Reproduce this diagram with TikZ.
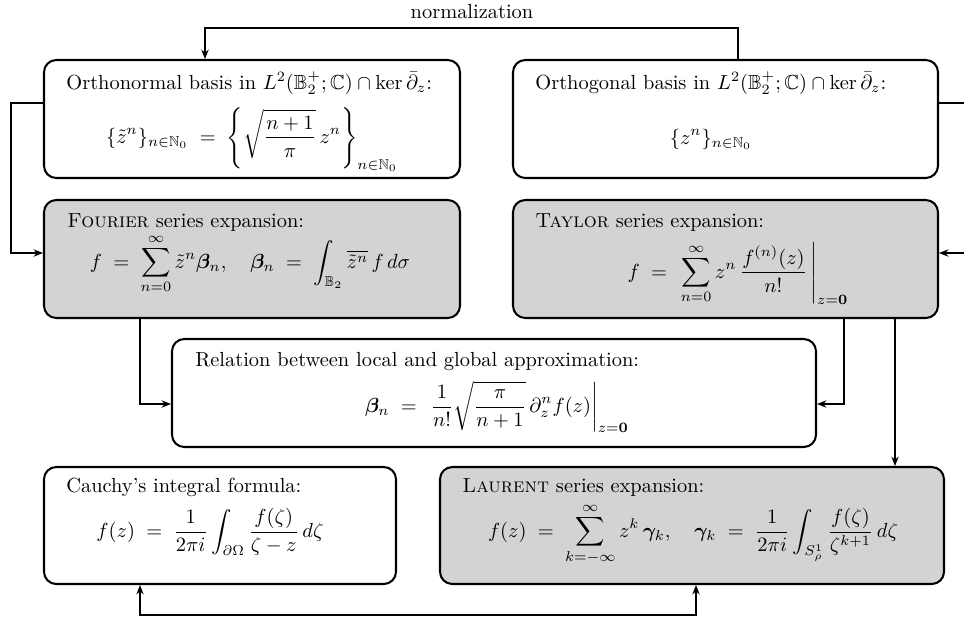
\documentclass[tikz,border=0pt]{standalone}
\usepackage{amsmath,amssymb,bm}
\usetikzlibrary{arrows.meta,fit}
\definecolor{boxgray}{RGB}{211,211,211}
\tikzset{
  box/.style={draw, line width=1pt, rounded corners=6pt, inner sep=0pt},
  gbox/.style={box, fill=boxgray},
  conn/.style={line width=0.6pt},
  arr/.style={conn, -{Stealth[length=4.6pt,width=3.6pt,inset=1.5pt]}},
  barr/.style={conn, {Stealth[length=4.6pt,width=3.6pt,inset=1.5pt]}-{Stealth[length=4.6pt,width=3.6pt,inset=1.5pt]}},
  ttl/.style={anchor=base west, inner sep=0pt},
  frm/.style={anchor=base, inner sep=0pt},
}
\begin{document}
\begin{tikzpicture}[x=0.49pt,y=-0.49pt]
\useasboundingbox (0,0) rectangle (964,621);
\clip (0,0) rectangle (964,621);

% boxes
\node[box,  fit={(44,60) (460,178)}]  (b1) {};
\node[box,  fit={(513,60) (938,178)}] (b2) {};
\node[gbox, fit={(44,200) (460,318)}] (b3) {};
\node[gbox, fit={(513,200) (938,318)}] (b4) {};
\node[box,  fit={(172,339) (816,447)}] (b5) {};
\node[box,  fit={(44,467) (396,584)}] (b6) {};
\node[gbox, fit={(440,467) (944,584)}] (b7) {};

% titles
\node[ttl] (t1) at (66,89) {Orthonormal basis in $L^2(\mathbb{B}_2^+;\mathbb{C})\cap\ker\bar\partial_z$:};
\node[ttl] (t2) at (535,89) {Orthogonal basis in $L^2(\mathbb{B}_2^+;\mathbb{C})\cap\ker\bar\partial_z$:};
\node[ttl] (t3) at (67,227) {\textsc{Fourier} series expansion:};
\node[ttl] (t4) at (535,227) {\textsc{Taylor} series expansion:};
\node[ttl] (t5) at (195,366) {Relation between local and global approximation:};
\node[ttl] (t6) at (66,492) {Cauchy's integral formula:};
\node[ttl] (t7) at (462,492) {\textsc{Laurent} series expansion:};

% formulas
\node[frm] (f1) at (252,143) {$\displaystyle \{\tilde z^n\}_{n\in\mathbb{N}_0} \;=\; \left\{\sqrt{\frac{n+1}{\pi}}\,z^n\right\}_{n\in\mathbb{N}_0}$};
\node[frm] (f2) at (711,144) {$\displaystyle \{z^n\}_{n\in\mathbb{N}_0}$};
\node[frm] (f3) at (250,268) {$\displaystyle f \;=\; \sum_{n=0}^{\infty}\tilde z^n\bm{\beta}_n,\quad \bm{\beta}_n \;=\; \int_{\mathbb{B}_2}\overline{\tilde z^n}\,f\,d\sigma$};
\node[frm] (f4) at (738,278) {$\displaystyle f \;=\; \left.\sum_{n=0}^{\infty} z^n\,\frac{f^{(n)}(z)}{n!}\,\right|_{z=\mathbf{0}}$};
\node[frm] (f5) at (497,412) {$\displaystyle \bm{\beta}_n \;=\; \left.\frac{1}{n!}\sqrt{\frac{\pi}{n+1}}\,\partial_z^n f(z)\right|_{z=\mathbf{0}}$};
\node[frm] (f6) at (210,537) {$\displaystyle f(z) \;=\; \frac{1}{2\pi i}\int_{\partial\Omega}\frac{f(\zeta)}{\zeta-z}\,d\zeta$};
\node[frm] (f7) at (693,537) {$\displaystyle f(z) \;=\; \sum_{k=-\infty}^{\infty} z^k\,\bm{\gamma}_k,\quad \bm{\gamma}_k \;=\; \frac{1}{2\pi i}\int_{S^1_\rho}\frac{f(\zeta)}{\zeta^{k+1}}\,d\zeta$};

% normalization connector
\coordinate (n1) at (738,28);
\coordinate (n2) at (205,28);
\draw[arr] (b2.north -| n1) -- (n1) -- (n2) -- (b1.north -| n2);
\node[inner sep=0pt] (nl) at (472,12) {normalization};

% left loop
\coordinate (l1) at (11,103);
\coordinate (l2) at (11,253);
\draw[arr] (b1.west |- l1) -- (l1) -- (l2) -- (b3.west |- l2);

% right loop (runs off the page)
\coordinate (r1) at (995,103);
\coordinate (r2) at (995,253);
\draw[arr] (b2.east |- r1) -- (r1) -- (r2) -- (b4.east |- r2);

% Fourier -> Relation
\coordinate (c1) at (140,404);
\draw[arr] (b3.south -| c1) -- (c1) -- (b5.west |- c1);

% Taylor -> Relation
\coordinate (c2) at (844,404);
\draw[arr] (b4.south -| c2) -- (c2) -- (b5.east |- c2);

% Taylor -> Laurent
\coordinate (c3) at (895,400);
\draw[arr] (b4.south -| c3) -- (b7.north -| c3);

% Cauchy <-> Laurent
\coordinate (d1) at (140,615);
\coordinate (d2) at (696,615);
\draw[barr] (b6.south -| d1) -- (d1) -- (d2) -- (b7.south -| d2);
\end{tikzpicture}
\end{document}
